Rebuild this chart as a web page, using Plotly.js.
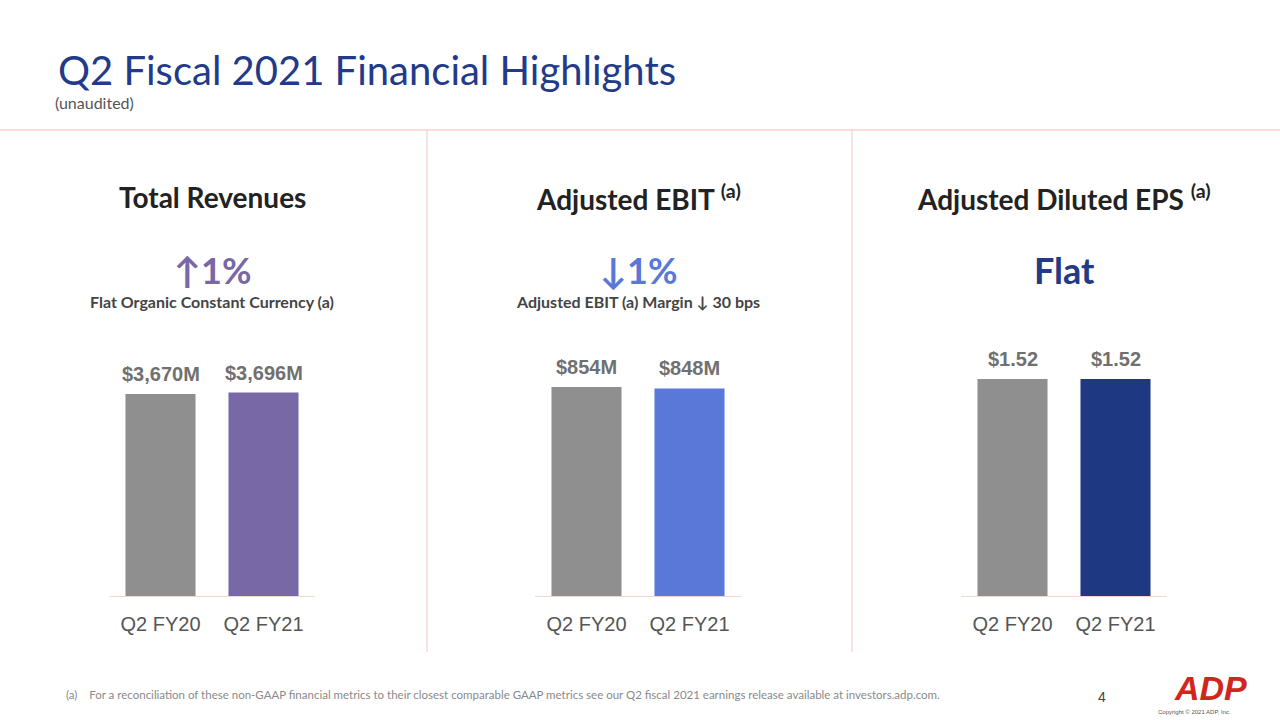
<!DOCTYPE html>
<html>
<head>
<meta charset="utf-8">
<script src="https://cdn.plot.ly/plotly-3.0.1.min.js"></script>
<style>html,body{margin:0;padding:0;background:#fff;}#chart{width:1280px;height:720px;}</style>
</head>
<body>
<div id="chart"></div>
<script>
// ---- data ----
const periods = ["Q2 FY20", "Q2 FY21"];
const revenues = [3670, 3696];
const revenueLabels = ["$3,670M", "$3,696M"];
const ebit = [854, 848];
const ebitLabels = ["$854M", "$848M"];
const eps = [1.52, 1.52];
const epsLabels = ["$1.52", "$1.52"];
const panelTitles = ["Total Revenues", "Adjusted EBIT <sup>(a)</sup>", "Adjusted Diluted EPS <sup>(a)</sup>"];
const changeTexts = ["↑1%", "↓1%", "Flat"];
const changeNotes = ["Flat Organic Constant Currency (a)", "Adjusted EBIT (a) Margin ↓ 30 bps", ""];

const grey = "#8f8f8f";
const barColors = [[grey, "#7868a6"], [grey, "#5a78d8"], [grey, "#1f3882"]];
const changeColors = ["#7868a6", "#5a78d8", "#233a86"];
const W = 1280, H = 720;
const px = x => x / W, py = y => 1 - y / H;

const panelX = [[109, 315], [535, 741], [961, 1167]];
const panelCenter = [212, 638, 1064];
const yBottom = 596, yTop = 340;
const series = [revenues, ebit, eps];
const labels = [revenueLabels, ebitLabels, epsLabels];
const yMax = [4651, 1046, 1.793];

const traces = [];
const layout = {
  width: W, height: H,
  margin: {l: 0, r: 0, t: 0, b: 0},
  paper_bgcolor: "#fff", plot_bgcolor: "#fff",
  showlegend: false,
  bargap: 0.32,
  shapes: [], annotations: []
};

series.forEach((vals, i) => {
  const xa = i === 0 ? "x" : "x" + (i + 1);
  const ya = i === 0 ? "y" : "y" + (i + 1);
  traces.push({
    type: "bar", x: periods, y: vals, xaxis: xa, yaxis: ya,
    marker: {color: barColors[i], line: {width: 0}},
    hoverinfo: "skip"
  });
  const xk = i === 0 ? "xaxis" : "xaxis" + (i + 1);
  const yk = i === 0 ? "yaxis" : "yaxis" + (i + 1);
  layout[xk] = {
    domain: [px(panelX[i][0]), px(panelX[i][1])],
    anchor: ya, type: "category",
    showline: true, linecolor: "#f2d8d2", linewidth: 1,
    showgrid: false, zeroline: false, ticks: "",
    ticklabelstandoff: 10,
    tickfont: {family: "Liberation Sans, Arial, sans-serif", size: 20, color: "#555555"},
    fixedrange: true
  };
  layout[yk] = {
    domain: [py(yBottom), py(yTop)], anchor: xa,
    range: [0, yMax[i]], visible: false, fixedrange: true
  };
  vals.forEach((v, j) => {
    layout.annotations.push({
      xref: xa, yref: ya, x: periods[j], y: v,
      text: "<b>" + labels[i][j] + "</b>", showarrow: false,
      yanchor: "bottom", yshift: 7,
      font: {family: "Liberation Sans, Arial, sans-serif", size: 20, color: "#707070"}
    });
  });
  // panel headers
  layout.annotations.push({
    xref: "paper", yref: "paper", x: px(panelCenter[i]), y: py(197),
    text: "<b>" + panelTitles[i] + "</b>", showarrow: false,
    xanchor: "center", yanchor: "middle",
    font: {family: "Lato, sans-serif", size: 28, color: "#222222"}
  });
  layout.annotations.push({
    xref: "paper", yref: "paper", x: px(panelCenter[i]), y: py(270),
    text: "<b>" + changeTexts[i] + "</b>", showarrow: false,
    xanchor: "center", yanchor: "middle",
    font: {family: "Lato, sans-serif", size: 36, color: changeColors[i]}
  });
  if (changeNotes[i]) {
    layout.annotations.push({
      xref: "paper", yref: "paper", x: px(panelCenter[i]), y: py(301),
      text: "<b>" + changeNotes[i] + "</b>", showarrow: false,
      xanchor: "center", yanchor: "middle",
      font: {family: "Lato, sans-serif", size: 16, color: "#444444"}
    });
  }
});

// title & subtitle
layout.annotations.push({
  xref: "paper", yref: "paper", x: px(56), y: py(70),
  text: "Q2 Fiscal 2021 Financial Highlights", showarrow: false,
  xanchor: "left", yanchor: "middle",
  font: {family: "Lato, sans-serif", size: 40, color: "#223a8a"}
});
layout.annotations.push({
  xref: "paper", yref: "paper", x: px(53), y: py(103),
  text: "(unaudited)", showarrow: false, xanchor: "left", yanchor: "middle",
  font: {family: "Lato, sans-serif", size: 16, color: "#555555"}
});
// footer
layout.annotations.push({
  xref: "paper", yref: "paper", x: px(64), y: py(694),
  text: "(a)    For a reconciliation of these non-GAAP financial metrics to their closest comparable GAAP metrics see our Q2 fiscal 2021 earnings release available at investors.adp.com.",
  showarrow: false, xanchor: "left", yanchor: "middle",
  font: {family: "Lato, sans-serif", size: 11.5, color: "#8a8a8a"}
});
layout.annotations.push({
  xref: "paper", yref: "paper", x: px(1102), y: py(697),
  text: "4", showarrow: false, xanchor: "center", yanchor: "middle",
  font: {family: "Liberation Sans, sans-serif", size: 14, color: "#444444"}
});
layout.annotations.push({
  xref: "paper", yref: "paper", x: px(1210), y: py(688),
  text: "<b><i>ADP</i></b>", showarrow: false, xanchor: "center", yanchor: "middle",
  font: {family: "Liberation Sans, Arial, sans-serif", size: 34, color: "#d0271d"}
});
layout.annotations.push({
  xref: "paper", yref: "paper", x: px(1194), y: py(712),
  text: "Copyright © 2021 ADP, Inc.", showarrow: false, xanchor: "center", yanchor: "middle",
  font: {family: "Liberation Sans, sans-serif", size: 6, color: "#555555"}
});

// divider lines
layout.shapes.push({type: "line", xref: "paper", yref: "paper", x0: 0, x1: 1, y0: py(130), y1: py(130), line: {color: "#f0bdb5", width: 1}});
[427, 852].forEach(x => {
  layout.shapes.push({type: "line", xref: "paper", yref: "paper", x0: px(x), x1: px(x), y0: py(130), y1: py(652), line: {color: "#f0c8c0", width: 1}});
});

Plotly.newPlot("chart", traces, layout, {staticPlot: true, displayModeBar: false});
</script>
</body>
</html>
